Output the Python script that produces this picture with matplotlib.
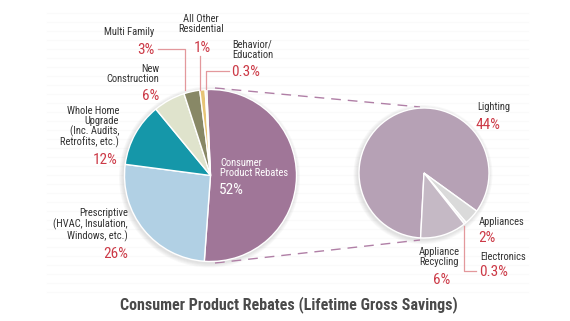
import matplotlib
matplotlib.use("Agg")
import matplotlib.pyplot as plt
from matplotlib.patches import Circle

# ---- data ----
main_labels = ["Consumer\nProduct Rebates", "Prescriptive\n(HVAC, Insulation,\nWindows, etc.)",
               "Whole Home\nUpgrade\n(Inc. Audits,\nRetrofits, etc.)", "New\nConstruction",
               "Multi Family", "All Other\nResidential", "Behavior/\nEducation"]
main_values = [52, 26, 12, 6, 3, 1, 0.3]
main_pct = ["52%", "26%", "12%", "6%", "3%", "1%", "0.3%"]
main_colors = ["#a07698", "#b1d0e4", "#1597a9", "#dfe3cc", "#888866", "#e7c476", "#d8cfa6"]

sub_labels = ["Lighting", "Appliances", "Electronics", "Appliance\nRecycling"]
sub_values = [44, 2, 0.3, 6]
sub_pct = ["44%", "2%", "0.3%", "6%"]
sub_colors = ["#b6a1b5", "#dadada", "#ececec", "#c5b9c5"]

title = "Consumer Product Rebates (Lifetime Gross Savings)"

W, H = 570, 321
FONT = ["Roboto Condensed", "Archivo Narrow", "DejaVu Sans"]
plt.rcParams['font.family'] = FONT

fig = plt.figure(figsize=(W / 100, H / 100), dpi=100)
ax = fig.add_axes([0, 0, 1, 1])

def Y(y):
    return H - y

# faint background stripes
for yy in range(13, 300, 9):
    ax.plot([47, 528], [Y(yy), Y(yy)], color="#fafafa", lw=0.8, zorder=0)

# shadows
def shadow(cx, cy, r):
    for i in range(1, 6):
        ax.add_patch(Circle((cx - 1, Y(cy) - 1.5), r + i * 0.9, color="#888888",
                            alpha=0.05, lw=0, zorder=1))

mcx, mcy, mr = 210.5, 175.5, 86
scx, scy, sr = 424, 173, 65
shadow(mcx, mcy, mr)
shadow(scx, scy, sr)

ax.pie(main_values, colors=main_colors, startangle=92.5, counterclock=False,
       center=(mcx, Y(mcy)), radius=mr,
       wedgeprops=dict(edgecolor="white", linewidth=1.0, zorder=2))
ax.pie(sub_values, colors=sub_colors, startangle=-93, counterclock=False,
       center=(scx, Y(scy)), radius=sr,
       wedgeprops=dict(edgecolor="white", linewidth=1.0, zorder=2))

# dashed connectors
dash_c = "#b07fa6"
ax.plot([215, 420], [Y(88), Y(107)], color=dash_c, lw=1.0, ls=(0, (7, 5)), zorder=1)
ax.plot([215, 420], [Y(263), Y(240)], color=dash_c, lw=1.0, ls=(0, (7, 5)), zorder=1)

# leader lines
lead_c = "#e3989c"
ax.plot([158, 185, 185], [Y(49), Y(49), Y(90)], color=lead_c, lw=0.9, zorder=3)
ax.plot([200, 200], [Y(56), Y(90)], color=lead_c, lw=0.9, zorder=3)
ax.plot([229, 206, 206], [Y(71), Y(71), Y(89)], color=lead_c, lw=0.9, zorder=3)
ax.plot([464, 464, 476], [Y(226), Y(271), Y(271)], color=lead_c, lw=0.9, zorder=3)

LC = "#333333"
PC = "#cc3a47"
LS = 7.6
PS = 11

def lab(x, y, s, ha, color=LC, size=LS, **kw):
    ax.text(x, Y(y), s, ha=ha, va="center", color=color, fontsize=size,
            linespacing=1.0, zorder=5, **kw)

def pct(x, y, s, ha, color=PC):
    lab(x, y, s, ha, color=color, size=PS)

# main pie labels
lab(220, 168.5, main_labels[0], "left", color="white")
pct(219, 190, main_pct[0], "left", color="white")
lab(128, 225, main_labels[1], "right")
pct(128, 254, main_pct[1], "right")
lab(119, 127, main_labels[2], "right")
pct(118, 160, main_pct[2], "right")
lab(159, 73.5, main_labels[3], "right")
pct(159, 96, main_pct[3], "right")
lab(154, 32, main_labels[4], "right")
pct(154, 50, main_pct[4], "right")
lab(201, 24, main_labels[5], "center")
pct(202, 48, main_pct[5], "center")
lab(232, 49.5, main_labels[6], "left")
pct(231, 72, main_pct[6], "left")

# sub pie labels
lab(477, 107, sub_labels[0], "left")
pct(476, 125, sub_pct[0], "left")
lab(479, 222, sub_labels[1], "left")
pct(478, 238, sub_pct[1], "left")
lab(480, 257, sub_labels[2], "left")
pct(479, 272, sub_pct[2], "left")
lab(439, 257, sub_labels[3], "center")
pct(442, 280, sub_pct[3], "center")

ax.text(289, Y(305), title, ha="center", va="center", color="#4a4a4a",
        fontsize=11.5, fontweight="bold", zorder=5)

ax.set_xlim(0, W)
ax.set_ylim(0, H)
ax.set_aspect("auto")
ax.axis("off")
fig.savefig("out.png", dpi=100, facecolor="white")
